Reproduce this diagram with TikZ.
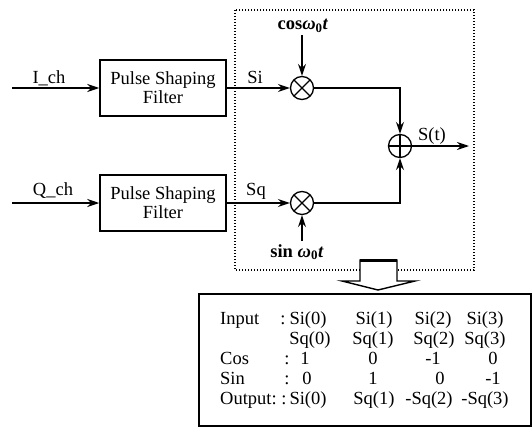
\documentclass[tikz,border=0pt]{standalone}
\usepackage{fontspec}
\setmainfont{Liberation Serif}
\usetikzlibrary{arrows.meta}
\begin{document}
\begin{tikzpicture}[x=1pt,y=-1pt,
  every node/.style={font=\fontsize{18.5}{19}\selectfont, inner sep=0pt},
  conn/.style={line width=1.5pt, -{Stealth[length=12pt,width=8pt]}},
  psf/.style={draw, line width=1.5pt, minimum width=126pt, minimum height=56pt, align=center},
  mult/.style={draw, circle, line width=1.3pt, minimum size=23pt,
    path picture={\draw[line width=1.2pt]
      (path picture bounding box.north west) -- (path picture bounding box.south east)
      (path picture bounding box.north east) -- (path picture bounding box.south west);}},
  summ/.style={draw, circle, line width=1.3pt, minimum size=23pt,
    path picture={\draw[line width=1.2pt]
      (path picture bounding box.north) -- (path picture bounding box.south)
      (path picture bounding box.west) -- (path picture bounding box.east);}},
  lbl/.style={anchor=base},
  lblw/.style={anchor=base west},
]
\useasboundingbox (0,0) rectangle (532,428);

% dotted enclosure
\draw[line width=1.2pt, dash pattern=on 1.2pt off 1.8pt] (235,10) rectangle (474,270);

% blocks
\node[psf] (f1) at (163,88) {Pulse Shaping\\Filter};
\node[psf] (f2) at (163,203) {Pulse Shaping\\Filter};
\node[mult] (m1) at (302,88) {};
\node[mult] (m2) at (302,203) {};
\node[summ] (sm) at (400,146) {};

% free ends
\coordinate (iin) at (12,88);
\coordinate (qin) at (12,203);
\coordinate (cosin) at (302,35);
\coordinate (sinin) at (302,241);
\coordinate (sout) at (469,146);

% connectors
\draw[conn] (iin) -- (f1.west);
\draw[conn] (qin) -- (f2.west);
\draw[conn] (f1.east) -- (m1.west);
\draw[conn] (f2.east) -- (m2.west);
\draw[conn] (cosin) -- (m1.north);
\draw[conn] (sinin) -- (m2.south);
\draw[conn] (m1.east) -| (sm.north);
\draw[conn] (m2.east) -| (sm.south);
\draw[conn] (sm.east) -- (sout);

% labels
\node[lbl] (lI) at (49,83) {I\_ch};
\node[lbl] (lQ) at (53,195) {Q\_ch};
\node[lbl] (lSi) at (255,83) {Si};
\node[lbl] (lSq) at (256,195) {Sq};
\node[lbl] (lcos) at (303,30) {\textbf{cos}\textbf{\textit{ω}}\textsubscript{\textbf{0}}\textbf{\textit{t}}};
\node[lbl] (lsin) at (297,257) {\textbf{sin} \textbf{\textit{ω}}\textsubscript{\textbf{0}}\textbf{\textit{t}}};
\node[lbl] (lSt) at (432,140) {S(t)};

% table box
\draw[line width=1.5pt] (199,294) rectangle (531,426);

% hollow arrow
\draw[line width=1.4pt, fill=white, line join=miter]
  (360,260) -- (397,260) -- (397,281) -- (415,281) -- (378,290) -- (342,281) -- (360,281) -- cycle;
\draw[line width=3pt] (360,260.5) -- (397,260.5);

% table text
\node[lblw] (r1a) at (220,324) {Input};
\node[lbl] (r1b) at (283,324) {:};
\node[lbl] (r1c) at (308,324) {Si(0)};
\node[lbl] (r1d) at (374,324) {Si(1)};
\node[lbl] (r1e) at (433,324) {Si(2)};
\node[lbl] (r1f) at (485,324) {Si(3)};

\node[lbl] (r2c) at (310,344) {Sq(0)};
\node[lbl] (r2d) at (373,344) {Sq(1)};
\node[lbl] (r2e) at (434,344) {Sq(2)};
\node[lbl] (r2f) at (485,344) {Sq(3)};

\node[lblw] (r3a) at (220,364) {Cos};
\node[lbl] (r3b) at (287,364) {:};
\node[lbl] (r3c) at (305,364) {1};
\node[lbl] (r3d) at (373,364) {0};
\node[lbl] (r3e) at (433,364) {-1};
\node[lbl] (r3f) at (493,364) {0};

\node[lblw] (r4a) at (220,384) {Sin};
\node[lbl] (r4b) at (287,384) {:};
\node[lbl] (r4c) at (307,384) {0};
\node[lbl] (r4d) at (373,384) {1};
\node[lbl] (r4e) at (440,384) {0};
\node[lbl] (r4f) at (493,384) {-1};

\node[lblw] (r5a) at (220,404) {Output:};
\node[lbl] (r5b) at (284,404) {:};
\node[lbl] (r5c) at (308,404) {Si(0)};
\node[lbl] (r5d) at (374,404) {Sq(1)};
\node[lbl] (r5e) at (429,404) {-Sq(2)};
\node[lbl] (r5f) at (485,404) {-Sq(3)};
\end{tikzpicture}
\end{document}
